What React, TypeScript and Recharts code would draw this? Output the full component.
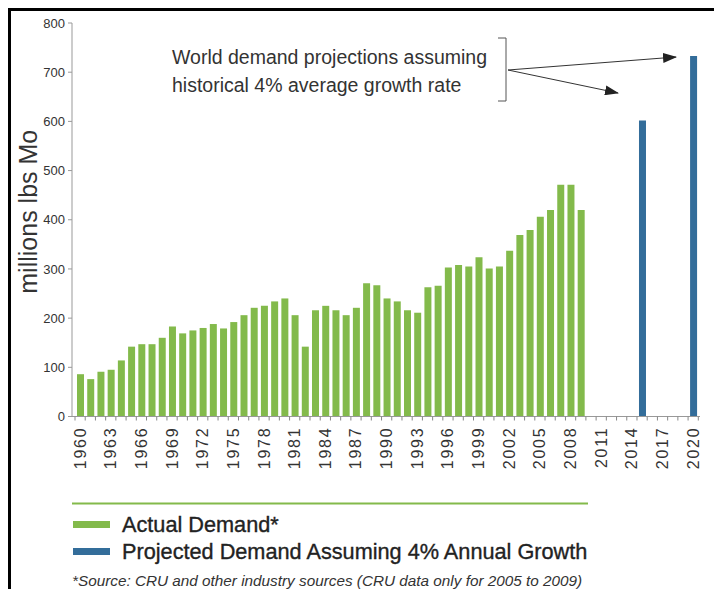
import React from "react";
import { BarChart, Bar, XAxis, YAxis, Label } from "recharts";

const FONT = "'Liberation Sans', Arial, Helvetica, sans-serif";
const GREEN = "#83ba4b";
const BLUE = "#336d9a";

// one category per year, 1960 to 2020
const years = Array.from({ length: 61 }, (_, i) => String(1960 + i));

// actual demand, 1960-2009 (millions lbs Mo)
const actualDemand = [
  86, 76, 91, 95, 114, 142, 147, 147, 160, 183,
  169, 175, 180, 188, 179, 192, 206, 221, 225, 234,
  240, 206, 142, 216, 225, 216, 206, 221, 271, 267,
  240, 234, 216, 211, 263, 266, 303, 308, 305, 324,
  301, 305, 337, 369, 379, 406, 420, 471, 471, 420,
];

// 4% growth projections
const projectedYears = ["2015", "2020"];
const projectedDemand = [602, 733];

const yTicks = [0, 100, 200, 300, 400, 500, 600, 700, 800];

const legendItems = [
  { label: "Actual Demand*", color: GREEN },
  { label: "Projected Demand Assuming 4% Annual Growth", color: BLUE },
];

const data = years.map((year, i) => {
  const p = projectedYears.indexOf(year);
  return {
    year,
    actual: i < actualDemand.length ? actualDemand[i] : null,
    projected: p >= 0 ? projectedDemand[p] : null,
  };
});

// chart geometry
const CHART_W = 711;
const CHART_H = 578;
const MARGIN = { top: 12, right: 22, bottom: 0, left: 0 };
const Y_AXIS_W = 61;
const X_PAD = { left: 3, right: 1.7 };
const PLOT_W = CHART_W - MARGIN.left - MARGIN.right - Y_AXIS_W;
const BAND = (PLOT_W - X_PAD.left - X_PAD.right) / years.length;

function YearTick(props: any) {
  const { x, y, payload, index } = props;
  const left = x - BAND / 2;
  return (
    <g>
      <line x1={left} x2={left} y1={y} y2={y + 4} stroke="#888" />
      {index === years.length - 1 && (
        <line x1={x + BAND / 2} x2={x + BAND / 2} y1={y} y2={y + 4} stroke="#888" />
      )}
      {index % 3 === 0 && (
        <text
          transform={`translate(${x + 5.5},${y + 10}) rotate(-90)`}
          textAnchor="end"
          fontFamily={FONT}
          fontSize={16}
          letterSpacing={1.8}
          fill="#333"
        >
          {payload.value}
        </text>
      )}
    </g>
  );
}

function YLabel(props: any) {
  const { viewBox } = props;
  const cy = viewBox.y + viewBox.height / 2 - 8;
  return (
    <text
      transform={`translate(26,${cy}) rotate(-90)`}
      textAnchor="middle"
      fontFamily={FONT}
      fontSize={25}
      fill="#333"
    >
      millions lbs Mo
    </text>
  );
}

function Overlay() {
  return (
    <svg
      width={CHART_W}
      height={CHART_H}
      style={{ position: "absolute", left: 0, top: 0, overflow: "visible" }}
    >
      <defs>
        <marker id="head" markerWidth="14" markerHeight="10" refX="13" refY="5" orient="auto" markerUnits="userSpaceOnUse">
          <path d="M0,0 L14,5 L0,10 Z" fill="#222" />
        </marker>
      </defs>
      <g transform="translate(-11,-11)" fontFamily={FONT}>
        <text x={172} y={64} fontSize={19.5} fill="#333">
          World demand projections assuming
        </text>
        <text x={172} y={92} fontSize={19.5} fill="#333">
          historical 4% average growth rate
        </text>
        <path d="M498,38 H506 V101 H498" fill="none" stroke="#555" strokeWidth={1} />
        <line x1={508} y1={70} x2={676} y2={57} stroke="#333" strokeWidth={1} markerEnd="url(#head)" />
        <line x1={508} y1={70} x2={618} y2={93} stroke="#333" strokeWidth={1} markerEnd="url(#head)" />

        <line x1={72} x2={588} y1={503.5} y2={503.5} stroke={GREEN} strokeWidth={2} />
        {legendItems.map((item, i) => (
          <g key={item.label}>
            <rect x={73} y={521 + i * 27} width={37} height={7} fill={item.color} />
            <text x={122} y={532 + i * 27} fontSize={21.7} fill="#222" stroke="#222" strokeWidth={0.35}>
              {item.label}
            </text>
          </g>
        ))}
        <text x={72} y={586} fontSize={15.3} fontStyle="italic" fill="#333">
          *Source: CRU and other industry sources (CRU data only for 2005 to 2009)
        </text>
      </g>
    </svg>
  );
}

export default function App() {
  return (
    <div
      style={{
        position: "relative",
        width: 714,
        height: 581,
        boxSizing: "border-box",
        borderLeft: "3px solid #000",
        borderTop: "3px solid #000",
        background: "#fff",
      }}
    >
      <div style={{ position: "absolute", left: 0, top: 0 }}>
        <BarChart width={CHART_W} height={CHART_H} data={data} margin={MARGIN}>
          <XAxis
            dataKey="year"
            interval={0}
            height={172.5}
            padding={X_PAD}
            tickSize={0}
            tickMargin={0}
            tickLine={false}
            axisLine={{ stroke: "#999" }}
            tick={<YearTick />}
          />
          <YAxis
            domain={[0, 800]}
            ticks={yTicks}
            width={Y_AXIS_W}
            tickSize={4}
            tickMargin={3}
            axisLine={{ stroke: "#999" }}
            tickLine={{ stroke: "#999" }}
            tick={{ fill: "#333", fontSize: 13, fontFamily: FONT }}
          >
            <Label content={<YLabel />} />
          </YAxis>
          <Bar dataKey="actual" stackId="d" fill={GREEN} barSize={7} isAnimationActive={false} />
          <Bar dataKey="projected" stackId="d" fill={BLUE} barSize={7} isAnimationActive={false} />
        </BarChart>
      </div>
      <Overlay />
    </div>
  );
}
